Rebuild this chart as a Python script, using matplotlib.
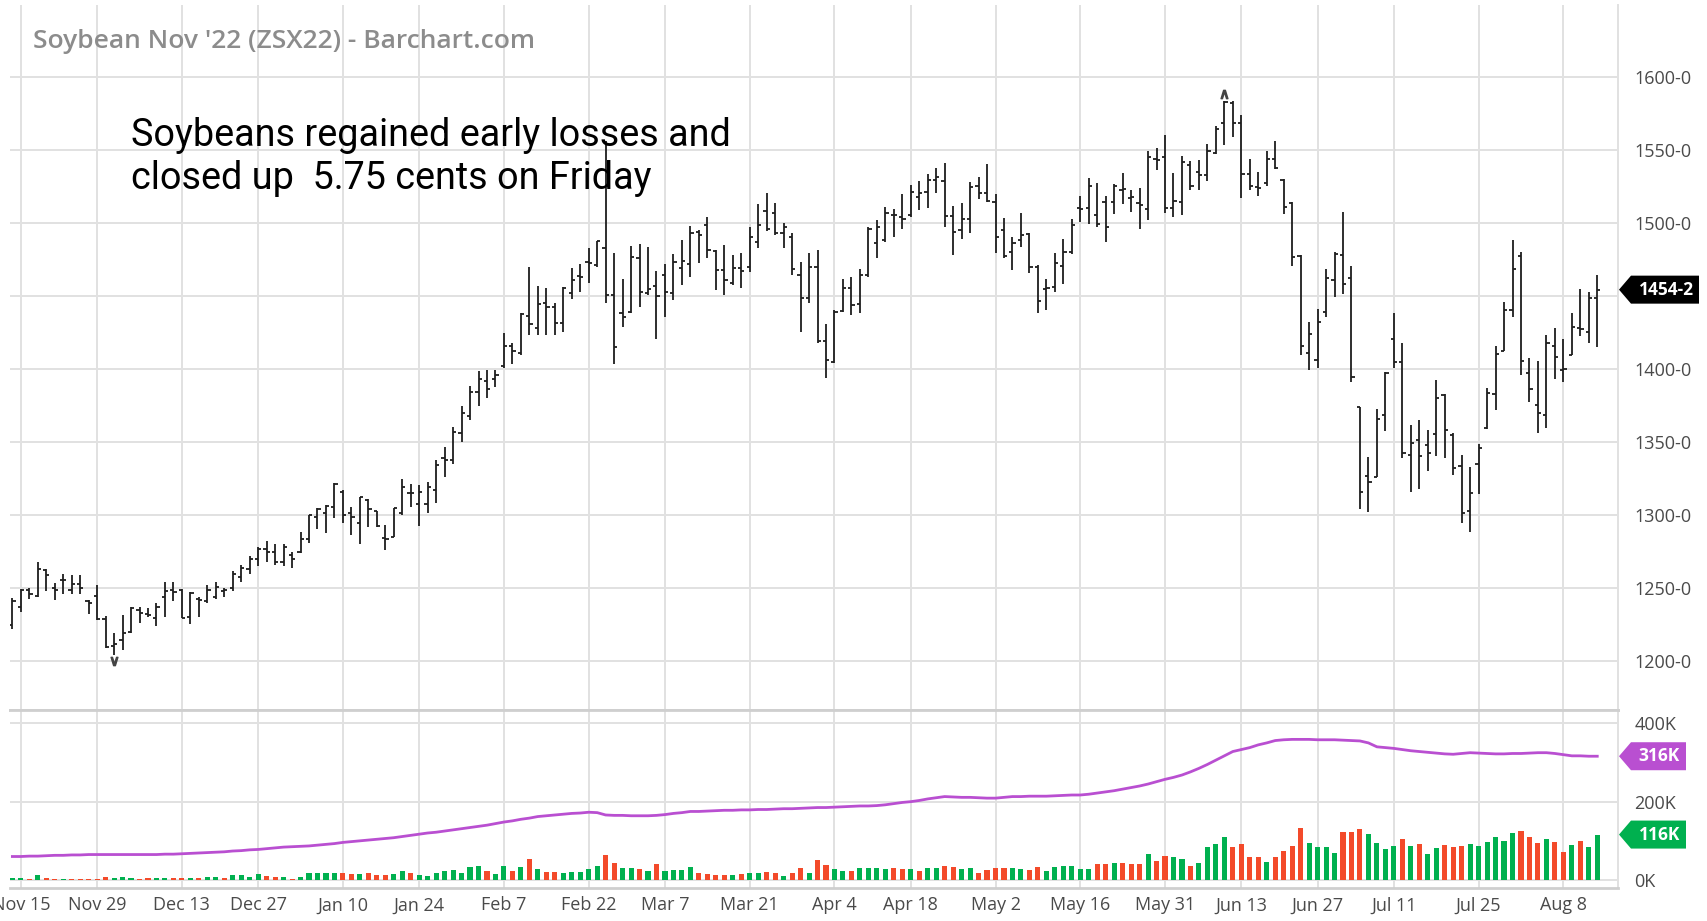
import matplotlib.pyplot as plt
import numpy as np
import pandas as pd
from matplotlib.patches import Polygon
from matplotlib.transforms import blended_transform_factory

# trading days of the contract, CBOT holidays left out
holidays = ['2021-11-25', '2021-12-24', '2022-01-17', '2022-02-21',
            '2022-04-15', '2022-05-30', '2022-06-20', '2022-07-04']
dates = pd.bdate_range('2021-11-12', '2022-08-12', freq='C', holidays=holidays)

tick_dates = ['2021-11-15', '2021-11-29', '2021-12-13', '2021-12-27', '2022-01-10',
              '2022-01-24', '2022-02-07', '2022-02-22', '2022-03-07', '2022-03-21',
              '2022-04-04', '2022-04-18', '2022-05-02', '2022-05-16', '2022-05-31',
              '2022-06-13', '2022-06-27', '2022-07-11', '2022-07-25', '2022-08-08']

# prices in cents
opens = [1225, 1237, 1249, 1245, 1262.6, 1250, 1255.7, 1249, 1253, 1241,
         1245, 1229, 1210.6, 1214.7, 1220, 1235, 1232.5, 1230, 1244, 1249,
         1249, 1230.6, 1243, 1241, 1244.3, 1248, 1250, 1258, 1263, 1270,
         1277, 1275, 1268, 1273, 1275, 1283.5, 1298.6, 1301.3, 1305.9, 1316.2,
         1301.3, 1295, 1310.5, 1303.2, 1284.3, 1285.4, 1301.3, 1315, 1307.7, 1308,
         1317.3, 1339, 1338, 1356, 1368, 1384, 1392, 1393, 1402, 1415.8,
         1410.7, 1436, 1427.8, 1444.9, 1442.6, 1431.3, 1452.2, 1463.6, 1473.4, 1471.1,
         1482.5, 1450.6, 1438.1, 1439.2, 1475.7, 1452, 1457, 1464.2, 1451.7, 1468.8,
         1471.8, 1493.9, 1498.4, 1480.9, 1467.7, 1458.6, 1468.8, 1470, 1487, 1508.2,
         1507, 1492.7, 1490.5, 1464.2, 1448.3, 1469.5, 1419.4, 1405, 1439.9, 1455.1,
         1444.4, 1464.2, 1486, 1488.2, 1505.3, 1503.7, 1505.3, 1517.8, 1521.2, 1529.2,
         1528.8, 1504.6, 1495, 1502.3, 1525.1, 1520.5, 1514.4, 1495, 1480.2, 1488.2,
         1492.3, 1470, 1454.5, 1456.3, 1470.4, 1480.2, 1509.8, 1510, 1505, 1514.4,
         1514.4, 1522.4, 1516.7, 1513.3, 1509.2, 1543.4, 1545.2, 1509.9, 1514.4, 1539.5,
         1534.9, 1532.6, 1548, 1568, 1581.6, 1568.4, 1533.3, 1524.7, 1526.9, 1543.4,
         1529, 1513.7, 1477.2, 1411.1, 1406.1, 1439.2, 1460.8, 1477.9, 1462, 1373.8,
         1326.8, 1326.4, 1368.5, 1420.5, 1405, 1341.2, 1351.4, 1348, 1355.5, 1382,
         1354.9, 1333.7, 1303.1, 1335, 1359.4, 1382.9, 1412.5, 1440.3, 1477.2, 1397,
         1375.4, 1368.5, 1415.7, 1399.3, 1409.6, 1427.8, 1425.5, 1448.3]
highs = [1243.6, 1249.6, 1250, 1268.3, 1263, 1253.5, 1260, 1259, 1259, 1242,
         1252, 1231, 1219.3, 1231.8, 1237.5, 1237, 1236.4, 1240, 1254.6, 1254.6,
         1249.6, 1247.8, 1244.3, 1252.3, 1254, 1250, 1262, 1266, 1272, 1278.5,
         1282.7, 1280.4, 1280.4, 1275, 1288.8, 1300, 1304.8, 1307, 1321.9, 1317.3,
         1305.9, 1312.7, 1310.9, 1303.2, 1293.4, 1305.2, 1324.8, 1321.2, 1320.7, 1323,
         1337.8, 1346.9, 1360, 1375, 1388.4, 1398.7, 1399.4, 1399.4, 1424.4, 1417.6,
         1438.1, 1469.5, 1457, 1455.2, 1444.9, 1456.3, 1469.3, 1471.8, 1482.5, 1487.8,
         1556, 1479.1, 1461.3, 1484.1, 1485.5, 1483.2, 1467, 1471.8, 1478.6, 1488.2,
         1497.7, 1495, 1504.1, 1481.3, 1484.8, 1477.9, 1479.5, 1497.3, 1512.8, 1520.1,
         1513.7, 1499.6, 1492.7, 1473.4, 1479.5, 1481.3, 1430.8, 1440.3, 1461.3, 1462.7,
         1468.1, 1496.8, 1501.8, 1510.5, 1509.2, 1519.6, 1525.8, 1528.8, 1533.3, 1537.2,
         1541.1, 1511.4, 1513.3, 1528.1, 1531.5, 1540.2, 1519.6, 1503, 1490.5, 1506.4,
         1492.7, 1471.1, 1461.3, 1479.1, 1488.6, 1502.3, 1518.3, 1530.4, 1527.4, 1518.3,
         1526.5, 1534.2, 1522.4, 1523.5, 1549.3, 1550.9, 1560, 1534.2, 1545.6, 1542.5,
         1542.9, 1553.8, 1566.1, 1583.5, 1583.5, 1573.7, 1543.4, 1534.9, 1549.3, 1556.1,
         1529.7, 1514.4, 1477.9, 1432.3, 1440.8, 1468.1, 1480.2, 1507.6, 1470.4, 1373.8,
         1339.6, 1372.4, 1398.2, 1438, 1417.5, 1361.7, 1365.1, 1358.3, 1392.5, 1382.9,
         1356, 1341.2, 1332.8, 1348.7, 1386.8, 1415.9, 1446, 1488.2, 1480.2, 1407.3,
         1405.7, 1423.2, 1428.2, 1420.3, 1438, 1454.4, 1452.9, 1464.2]
lows = [1222, 1234, 1242.7, 1244, 1248, 1242, 1246, 1246, 1246, 1232.5,
        1228.4, 1209, 1204.5, 1208, 1219.3, 1226, 1230.6, 1224, 1230.6, 1241,
        1229.5, 1225.6, 1230.6, 1240.3, 1243, 1244, 1248, 1254, 1260, 1265,
        1268, 1266, 1265, 1264, 1274, 1281, 1290.4, 1287.7, 1297.9, 1294.5,
        1286.5, 1280.4, 1292.2, 1292.2, 1276.3, 1285.4, 1300.2, 1305.9, 1292.7, 1301.3,
        1308.6, 1326.4, 1335, 1350, 1365, 1375, 1380, 1388, 1400.5, 1403.5,
        1409.6, 1423.3, 1423.3, 1423.3, 1423.3, 1425.6, 1447.7, 1452.9, 1458.6, 1469.5,
        1444.9, 1403.4, 1428.5, 1438.5, 1442.6, 1450.6, 1420.3, 1435.3, 1447.2, 1457.4,
        1462.7, 1472.2, 1475.6, 1454, 1450.6, 1457.4, 1455.1, 1466.5, 1482.5, 1494.6,
        1491.6, 1482.5, 1464.2, 1425.5, 1444.9, 1418, 1393.6, 1403.9, 1439.2, 1436.9,
        1438, 1463.1, 1475.6, 1487.1, 1490, 1495.5, 1503.7, 1508.7, 1509.8, 1520.1,
        1497.3, 1477.9, 1488.6, 1493.2, 1516, 1514.4, 1479.1, 1475.7, 1467.7, 1483.6,
        1465.9, 1438.1, 1440.3, 1452.9, 1458.1, 1478.6, 1500.7, 1499, 1497.3, 1487,
        1506, 1512.8, 1507.6, 1495.5, 1501.9, 1536.1, 1506.9, 1504.2, 1505.3, 1522.4,
        1522.4, 1528.8, 1547, 1553.2, 1558.9, 1516.7, 1522.4, 1518.3, 1525.1, 1536.5,
        1506, 1470.4, 1409.6, 1399.3, 1400.4, 1435.8, 1449.4, 1451.3, 1391.3, 1304,
        1302.4, 1325.9, 1357.8, 1400.4, 1338.9, 1316.1, 1317.7, 1330.5, 1340.5, 1338.9,
        1327.5, 1294.9, 1288.8, 1314.5, 1358.7, 1371.9, 1412.5, 1435.3, 1395.9, 1377.6,
        1356, 1359.4, 1392.9, 1391.3, 1409.6, 1422.5, 1418, 1415.3]
closes = [1241, 1249, 1246, 1263, 1259, 1249, 1256, 1253, 1250, 1240,
          1229, 1210, 1212, 1219.3, 1236.4, 1233.4, 1231.8, 1237, 1248.5, 1247.8,
          1230, 1246.6, 1242, 1249, 1251, 1249, 1260, 1264, 1270, 1277,
          1275, 1268, 1278, 1270, 1283.5, 1300, 1304, 1306.4, 1321.4, 1300.2,
          1299, 1312.3, 1304.1, 1292.7, 1283.6, 1304.8, 1319.6, 1315.5, 1315.9, 1319.6,
          1334.4, 1337.8, 1357, 1370, 1384, 1393, 1386, 1396, 1415.8, 1412.6,
          1437.4, 1431, 1444.2, 1442.6, 1431.7, 1455.6, 1460.9, 1463.2, 1472.3, 1487.5,
          1450.6, 1414.8, 1435.8, 1476.8, 1452.9, 1455, 1450, 1452.9, 1473.4, 1474,
          1492.7, 1491.6, 1481.3, 1467.7, 1460.8, 1468.8, 1467.2, 1490, 1498.4, 1495.5,
          1493, 1497.3, 1468.1, 1448.3, 1469.5, 1419.4, 1406.1, 1439.2, 1455.1, 1443.7,
          1464.2, 1495.5, 1497, 1506.4, 1505, 1502.3, 1521.2, 1520.1, 1529.2, 1531.5,
          1504.6, 1493.9, 1502.3, 1524.7, 1520.1, 1514.8, 1490, 1477.3, 1486.4, 1491.6,
          1470, 1446.7, 1455.1, 1472.2, 1480.2, 1498.4, 1509.1, 1525, 1499, 1497.3,
          1525.1, 1522.9, 1517.4, 1512.1, 1544.7, 1543, 1509.9, 1515.1, 1541.8, 1525.1,
          1532.6, 1549.3, 1564, 1582.8, 1568.4, 1533.3, 1525.1, 1523.5, 1543.4, 1537.2,
          1511, 1476.3, 1415.7, 1423.9, 1432.3, 1462.4, 1478.6, 1457.9, 1394.8, 1315.7,
          1322.7, 1365.6, 1397, 1405, 1342.8, 1349.2, 1340.5, 1342.3, 1379.9, 1358.3,
          1332.1, 1301.3, 1315.4, 1346.2, 1383.3, 1410.2, 1440.3, 1468.1, 1405.7, 1386.1,
          1369.7, 1417.5, 1408.4, 1399.8, 1428.9, 1427, 1448.3, 1454.25]

# volume and its moving average, thousands of contracts
volume = [6, 4, 3, 13, 6, 3, 3, 3, 3, 3,
          3, 7, 4, 7, 4, 3, 4, 4, 4, 4,
          4, 4, 4, 8.5, 8.5, 4, 13, 14, 7, 15,
          11, 8.5, 8.5, 3, 8.5, 19, 17, 17, 19, 17,
          15, 15, 19, 13, 13, 15, 24, 17, 13, 10,
          19, 24, 25.5, 17, 32, 36, 24, 15, 36, 24,
          32, 54, 27, 20, 21, 19, 21, 21, 27, 36,
          64, 44, 30, 30, 27, 24, 40, 24, 25.5, 25.5,
          34, 19, 15, 13, 13, 13, 15, 19, 19, 21,
          17, 11, 19, 30, 19, 51, 38, 27, 24, 24,
          30, 30, 31, 27, 30, 27, 27, 23, 30, 31,
          37, 34, 27, 30, 17, 25, 30, 30, 30, 27,
          25, 34, 24, 34, 37, 37, 27, 27, 41, 41,
          43, 43, 41, 41, 66, 49, 62, 60, 53, 36,
          43, 85, 92, 111, 83, 92, 60, 58, 45, 60,
          75, 88, 132, 94, 85, 85, 68, 123, 123, 129,
          117, 95, 79, 87, 104, 88, 92, 66, 81, 89,
          83, 87, 92, 88, 98, 109, 100, 121, 125, 109,
          94, 105, 98, 72, 89, 100, 83, 116]
vol_ma = [60, 60, 61, 61, 62, 63, 63, 64, 64, 65,
          65, 65, 65, 65, 65, 65, 65, 65, 66, 66,
          67, 68, 69, 70, 71, 72, 74, 75, 77, 78,
          80, 82, 84, 85, 86, 87, 89, 91, 93, 96,
          98, 100, 102, 104, 106, 108, 111, 114, 117, 120,
          122, 125, 128, 131, 134, 137, 140, 144, 148, 151,
          155, 158, 162, 164, 166, 168, 170, 171, 173, 172,
          166, 165, 165, 164, 164, 164, 165, 167, 170, 172,
          175, 175, 176, 177, 178, 178, 179, 179, 180, 180,
          181, 182, 182, 183, 184, 185, 185, 186, 187, 188,
          189, 189, 190, 192, 195, 198, 200, 203, 207, 210,
          213, 212, 211, 211, 210, 209, 209, 211, 213, 213,
          214, 214, 214, 215, 216, 217, 217, 219, 222, 225,
          228, 232, 236, 240, 245, 251, 257, 262, 268, 276,
          285, 295, 306, 317, 328, 333, 338, 345, 350, 356,
          358, 359, 359, 359, 358, 358, 358, 357, 356, 355,
          350, 340, 338, 336, 333, 330, 328, 326, 324, 322,
          321, 323, 325, 324, 323, 322, 322, 323, 323, 324,
          325, 325, 323, 320, 317, 317, 316, 316]

price_ticks = [1200, 1250, 1300, 1350, 1400, 1450, 1500, 1550, 1600]
vol_ticks = [0, 200, 400]

title = "Soybean Nov '22 (ZSX22) - Barchart.com"
note = "Soybeans regained early losses and\nclosed up  5.75 cents on Friday"
last_price = '1454-2'

GREEN = '#00b04f'
RED = '#f34a2a'
PURPLE = '#b94fd1'
GRID = '#e1e1e1'
FRAME = '#cfcfcf'
LABEL = '#4a4a4a'

plt.rcParams['font.family'] = ['Open Sans', 'DejaVu Sans']

x = np.arange(len(dates))
o = np.array(opens)
c = np.array(closes)
prev = np.concatenate([[o[0]], c[:-1]])
bar_colors = np.where(c >= prev, GREEN, RED)
tick_pos = [dates.get_loc(pd.Timestamp(d)) for d in tick_dates]
tick_lab = [pd.Timestamp(d).strftime('%b ') + str(pd.Timestamp(d).day) for d in tick_dates]

W, H = 1708, 921
fig = plt.figure(figsize=(W / 100, H / 100), dpi=100)
left, right = 10, 1617.6
ax = fig.add_axes([left / W, 1 - 710 / H, (right - left) / W, 705 / H])
axv = fig.add_axes([left / W, 1 - 888 / H, (right - left) / W, 178 / H])

xlim = (-0.28, 189.4)
for a in (ax, axv):
    a.set_xlim(*xlim)
    a.set_xticks(tick_pos)
    a.grid(True, color=GRID, lw=1.4)
    a.set_axisbelow(True)
    a.yaxis.tick_right()
    a.tick_params(axis='both', length=0, labelsize=13, labelcolor=LABEL)
    a.tick_params(axis='y', pad=12)
    a.spines['left'].set_visible(False)
    a.spines['right'].set_color(GRID)
    a.spines['right'].set_linewidth(1.4)
    for s in ('top', 'bottom'):
        a.spines[s].set_color(FRAME)
        a.spines[s].set_linewidth(2)

ax.spines['top'].set_visible(False)
ax.tick_params(axis='x', labelbottom=False)

# price bars
ax.set_ylim(1166.8, 1648.9)
ax.set_yticks(price_ticks)
# the 1450 label sits under the last-price flag
ax.set_yticklabels(['' if p == 1450 else f'{p}-0' for p in price_ticks])
bar_ink = '#1e1e1e'
ax.vlines(x, lows, highs, color=bar_ink, lw=1.3)
ax.hlines(opens, x - 0.38, x, color=bar_ink, lw=1.3)
ax.hlines(closes, x, x + 0.38, color=bar_ink, lw=1.3)
hi = int(np.argmax(highs))
lo = int(np.argmin(lows))
ax.plot([hi], [highs[hi] + 4.5], marker='$\\wedge$', ms=6, color='#444444')
ax.plot([lo], [lows[lo] - 4.5], marker='$\\vee$', ms=6, color='#444444')

# volume
axv.set_ylim(-20.4, 434)
axv.set_yticks(vol_ticks)
axv.set_yticklabels([f'{v}K' for v in vol_ticks])
axv.bar(x, volume, width=0.6, color=bar_colors)
axv.plot(x, vol_ma, color=PURPLE, lw=2)
axv.set_xticklabels(tick_lab)
axv.tick_params(axis='x', pad=6)


def tag(a, y, text, color, x_end):
    # pentagon price flag hanging on the right edge of an axes
    fig.canvas.draw()
    bbox = a.get_window_extent()
    y0, y1 = a.get_ylim()
    half = 14 * (y1 - y0) / bbox.height
    tr = blended_transform_factory(fig.transFigure, a.transData)
    xt, xb, xr = 1619 / W, 1631 / W, x_end / W
    pts = [(xt, y), (xb, y + half), (xr, y + half), (xr, y - half), (xb, y - half)]
    fig.patches.append(Polygon(pts, closed=True, transform=tr, facecolor=color,
                               edgecolor='none', clip_on=False))
    fig.text((xb + xr) / 2 + 1 / W, y, text, transform=tr, ha='center', va='center',
             color='white', fontsize=12.5, fontweight='bold')


tag(ax, closes[-1], last_price, '#000000', 1699)
tag(axv, vol_ma[-1], f'{vol_ma[-1]}K', PURPLE, 1686)
tag(axv, volume[-1], f'{volume[-1]}K', GREEN, 1686)

fig.text(33 / W, 1 - 41 / H, title, ha='left', va='center', color='#8c8c8c',
         fontsize=19, fontweight='semibold')
fig.text(131 / W, 1 - 157 / H, note, ha='left', va='center', color='black',
         fontsize=27.2, family=['Roboto', 'DejaVu Sans'], linespacing=1.2)

fig.savefig('out.png', dpi=100)
